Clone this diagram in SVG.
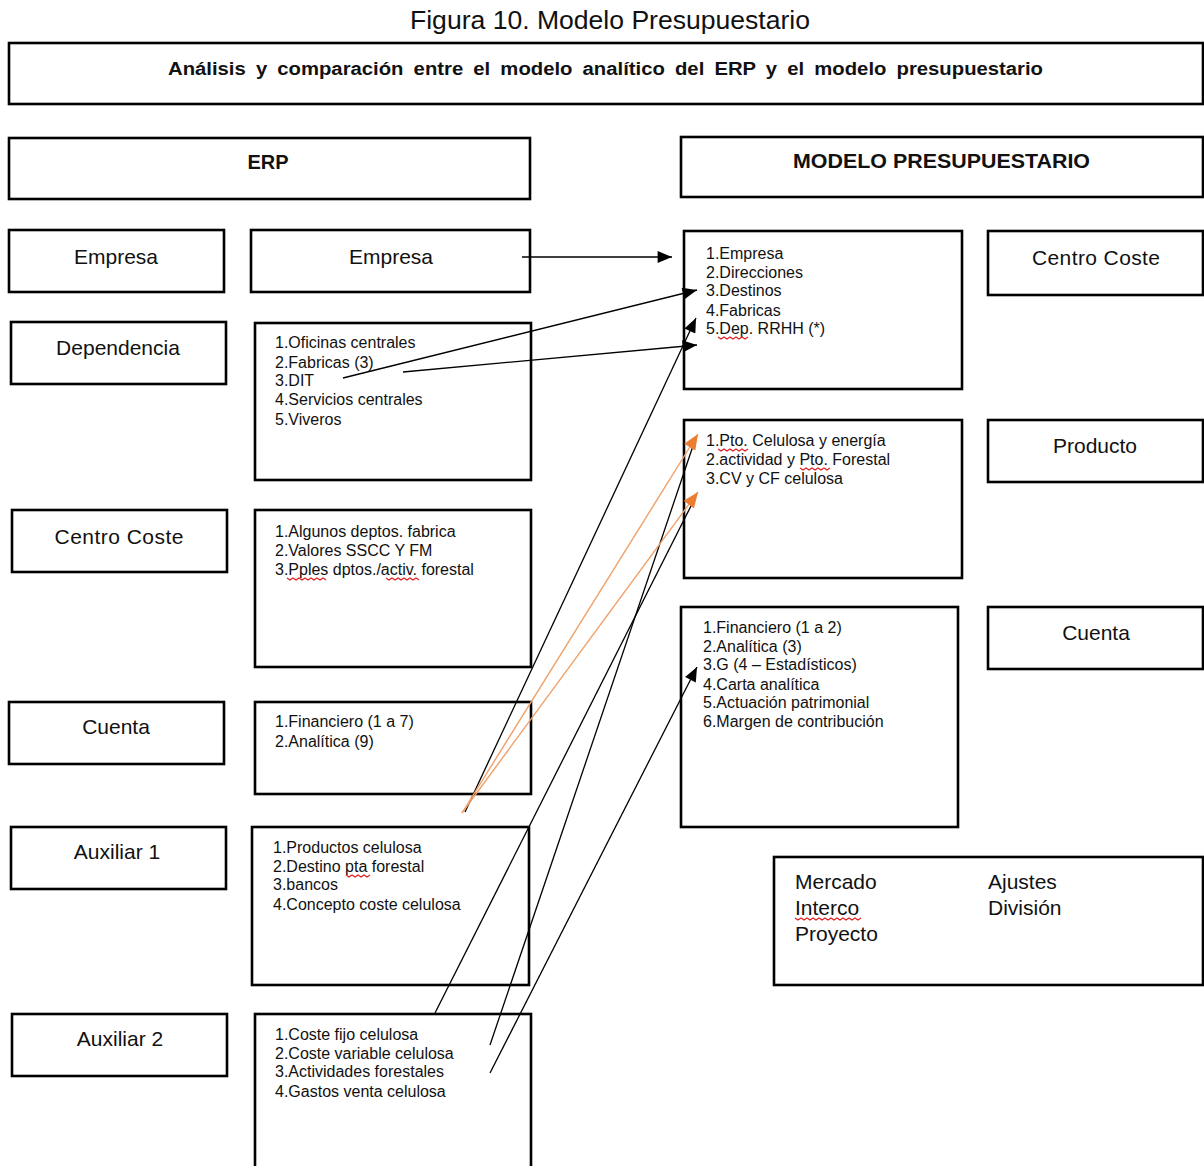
<svg xmlns="http://www.w3.org/2000/svg" width="1204" height="1166" viewBox="0 0 1204 1166">
<style>
.box{fill:#fff;stroke:#000;stroke-width:2.6}
.t{font-family:"Liberation Sans",Arial,sans-serif;fill:#111}
.lbl{font-size:21px;text-anchor:middle}
.li{font-size:16px}
.big{font-size:21px}
.sq{fill:none;stroke:#e02020;stroke-width:1.2}
.c{fill:none;stroke:#000;stroke-width:1.3}
.co{fill:none;stroke:#F0A06A;stroke-width:1.4}
</style>
<defs>
<marker id="ab" markerUnits="userSpaceOnUse" viewBox="0 0 12 10" refX="12" refY="5" markerWidth="15" markerHeight="12" orient="auto"><path d="M0,0 L12,5 L0,10 z" fill="#000"/></marker>
<marker id="ao" markerUnits="userSpaceOnUse" viewBox="0 0 12 10" refX="12" refY="5" markerWidth="16" markerHeight="13" orient="auto"><path d="M0,0 L12,5 L0,10 z" fill="#ED7D31"/></marker>
</defs>
<rect width="1204" height="1166" fill="#fff"/>
<text class="t" x="610" y="29" font-size="25" text-anchor="middle" textLength="400" lengthAdjust="spacingAndGlyphs">Figura 10. Modelo Presupuestario</text>

<g id="header"><rect class="box" x="9" y="43" width="1194" height="61"/>
<text class="t" x="168" y="75" font-size="18" font-weight="bold" word-spacing="4" textLength="875" lengthAdjust="spacingAndGlyphs">Análisis y comparación entre el modelo analítico del ERP y el modelo presupuestario</text></g>
<g id="erp"><rect class="box" x="9" y="138" width="521" height="61"/>
<text class="t" x="268" y="169" font-size="20" font-weight="bold" text-anchor="middle">ERP</text></g>
<g id="modelo"><rect class="box" x="681" y="137" width="522" height="60"/>
<text class="t" x="793" y="168" font-size="20" font-weight="bold" textLength="297" lengthAdjust="spacingAndGlyphs">MODELO PRESUPUESTARIO</text></g>

<g id="l-empresa"><rect class="box" x="9" y="230" width="215" height="62"/><text class="t lbl" x="116" y="264">Empresa</text></g>
<g id="l-dependencia"><rect class="box" x="11" y="322" width="215" height="62"/><text class="t lbl" x="118" y="355">Dependencia</text></g>
<g id="l-centro"><rect class="box" x="12" y="510" width="215" height="62"/><text class="t lbl" x="119" y="544" textLength="129" lengthAdjust="spacing">Centro Coste</text></g>
<g id="l-cuenta"><rect class="box" x="9" y="702" width="215" height="62"/><text class="t lbl" x="116" y="734">Cuenta</text></g>
<g id="l-aux1"><rect class="box" x="11" y="827" width="215" height="62"/><text class="t lbl" x="117" y="859">Auxiliar 1</text></g>
<g id="l-aux2"><rect class="box" x="12" y="1014" width="215" height="62"/><text class="t lbl" x="120" y="1046">Auxiliar 2</text></g>

<g id="m-empresa"><rect class="box" x="251" y="230" width="279" height="62"/><text class="t lbl" x="391" y="264">Empresa</text></g>
<g id="m-dependencia"><rect class="box" x="255" y="323" width="276" height="157"/>
<text class="t li" x="275" y="348">1.Oficinas centrales</text>
<text class="t li" x="275" y="368">2.Fabricas (3)</text>
<text class="t li" x="275" y="386">3.DIT</text>
<text class="t li" x="275" y="405">4.Servicios centrales</text>
<text class="t li" x="275" y="425">5.Viveros</text></g>
<g id="m-centro"><rect class="box" x="255" y="510" width="276" height="157"/>
<text class="t li" x="275" y="537">1.Algunos deptos. fabrica</text>
<text class="t li" x="275" y="556">2.Valores SSCC Y FM</text>
<text class="t li" x="275" y="575">3.Pples dptos./activ. forestal</text>
<path class="sq" d="M287,578 l3,2 l3,-2 l3,2 l3,-2 l3,2 l3,-2 l3,2 l3,-2 l3,2 l3,-2 l3,2 l3,-2 l3,2 M386,578 l3,2 l3,-2 l3,2 l3,-2 l3,2 l3,-2 l3,2 l3,-2 l3,2 l3,-2 l3,2"/></g>
<g id="m-cuenta"><rect class="box" x="255" y="702" width="276" height="92"/>
<text class="t li" x="275" y="727">1.Financiero (1 a 7)</text>
<text class="t li" x="275" y="747">2.Analítica (9)</text></g>
<g id="m-aux1"><rect class="box" x="252" y="827" width="277" height="158"/>
<text class="t li" x="273" y="853">1.Productos celulosa</text>
<text class="t li" x="273" y="872">2.Destino pta forestal</text>
<text class="t li" x="273" y="890">3.bancos</text>
<text class="t li" x="273" y="910">4.Concepto coste celulosa</text>
<path class="sq" d="M346,875 l3,2 l3,-2 l3,2 l3,-2 l3,2 l3,-2 l3,2 l3,-2"/></g>
<g id="m-aux2"><rect class="box" x="255" y="1014" width="276" height="170"/>
<text class="t li" x="275" y="1040">1.Coste fijo celulosa</text>
<text class="t li" x="275" y="1059">2.Coste variable celulosa</text>
<text class="t li" x="275" y="1077">3.Actividades forestales</text>
<text class="t li" x="275" y="1097">4.Gastos venta celulosa</text></g>

<g id="r-dependencia"><rect class="box" x="684" y="231" width="278" height="158"/>
<text class="t li" x="706" y="259">1.Empresa</text>
<text class="t li" x="706" y="278">2.Direcciones</text>
<text class="t li" x="706" y="296">3.Destinos</text>
<text class="t li" x="706" y="316">4.Fabricas</text>
<text class="t li" x="706" y="334">5.Dep. RRHH (*)</text>
<path class="sq" d="M718,337 l3,2 l3,-2 l3,2 l3,-2 l3,2 l3,-2 l3,2 l3,-2 l3,2 l3,-2"/></g>
<g id="r-producto"><rect class="box" x="684" y="420" width="278" height="158"/>
<text class="t li" x="706" y="446">1.Pto. Celulosa y energía</text>
<text class="t li" x="706" y="465">2.actividad y Pto. Forestal</text>
<text class="t li" x="706" y="484">3.CV y CF celulosa</text>
<path class="sq" d="M718,449 l3,2 l3,-2 l3,2 l3,-2 l3,2 l3,-2 l3,2 l3,-2 l3,2 l3,-2 M800,468 l3,2 l3,-2 l3,2 l3,-2 l3,2 l3,-2 l3,2 l3,-2 l3,2 l3,-2"/></g>
<g id="r-cuenta"><rect class="box" x="681" y="607" width="277" height="220"/>
<text class="t li" x="703" y="633">1.Financiero (1 a 2)</text>
<text class="t li" x="703" y="652">2.Analítica (3)</text>
<text class="t li" x="703" y="670">3.G (4 – Estadísticos)</text>
<text class="t li" x="703" y="690">4.Carta analítica</text>
<text class="t li" x="703" y="708">5.Actuación patrimonial</text>
<text class="t li" x="703" y="727">6.Margen de contribución</text></g>

<g id="rl-centro"><rect class="box" x="988" y="231" width="215" height="64"/><text class="t lbl" x="1096" y="265" textLength="128" lengthAdjust="spacing">Centro Coste</text></g>
<g id="rl-producto"><rect class="box" x="988" y="420" width="215" height="62"/><text class="t lbl" x="1095" y="453">Producto</text></g>
<g id="rl-cuenta"><rect class="box" x="988" y="607" width="215" height="62"/><text class="t lbl" x="1096" y="640">Cuenta</text></g>

<g id="otros"><rect class="box" x="774" y="857" width="429" height="128"/>
<text class="t big" x="795" y="889">Mercado</text>
<text class="t big" x="795" y="915">Interco</text>
<text class="t big" x="795" y="941">Proyecto</text>
<text class="t big" x="988" y="889">Ajustes</text>
<text class="t big" x="988" y="915">División</text>
<path class="sq" d="M795,918 l3,2 l3,-2 l3,2 l3,-2 l3,2 l3,-2 l3,2 l3,-2 l3,2 l3,-2 l3,2 l3,-2 l3,2 l3,-2 l3,2 l3,-2 l3,2 l3,-2 l3,2 l3,-2 l3,2 l3,-2"/></g>

<g id="connectors">
<line class="c" x1="522" y1="257" x2="672" y2="257" marker-end="url(#ab)"/>
<line class="c" x1="343" y1="378" x2="697" y2="290" marker-end="url(#ab)"/>
<line class="c" x1="403" y1="372" x2="697" y2="345" marker-end="url(#ab)"/>
<line class="c" x1="465" y1="812" x2="696" y2="318" marker-end="url(#ab)"/>
<line class="c" x1="435" y1="1013" x2="694" y2="500"/>
<line class="c" x1="490" y1="1045" x2="694" y2="443"/>
<line class="c" x1="490" y1="1073" x2="697" y2="667" marker-end="url(#ab)"/>
<line class="co" x1="462" y1="813" x2="698" y2="434" marker-end="url(#ao)"/>
<line class="co" x1="462" y1="813" x2="698" y2="492" marker-end="url(#ao)"/>
</g>
</svg>
